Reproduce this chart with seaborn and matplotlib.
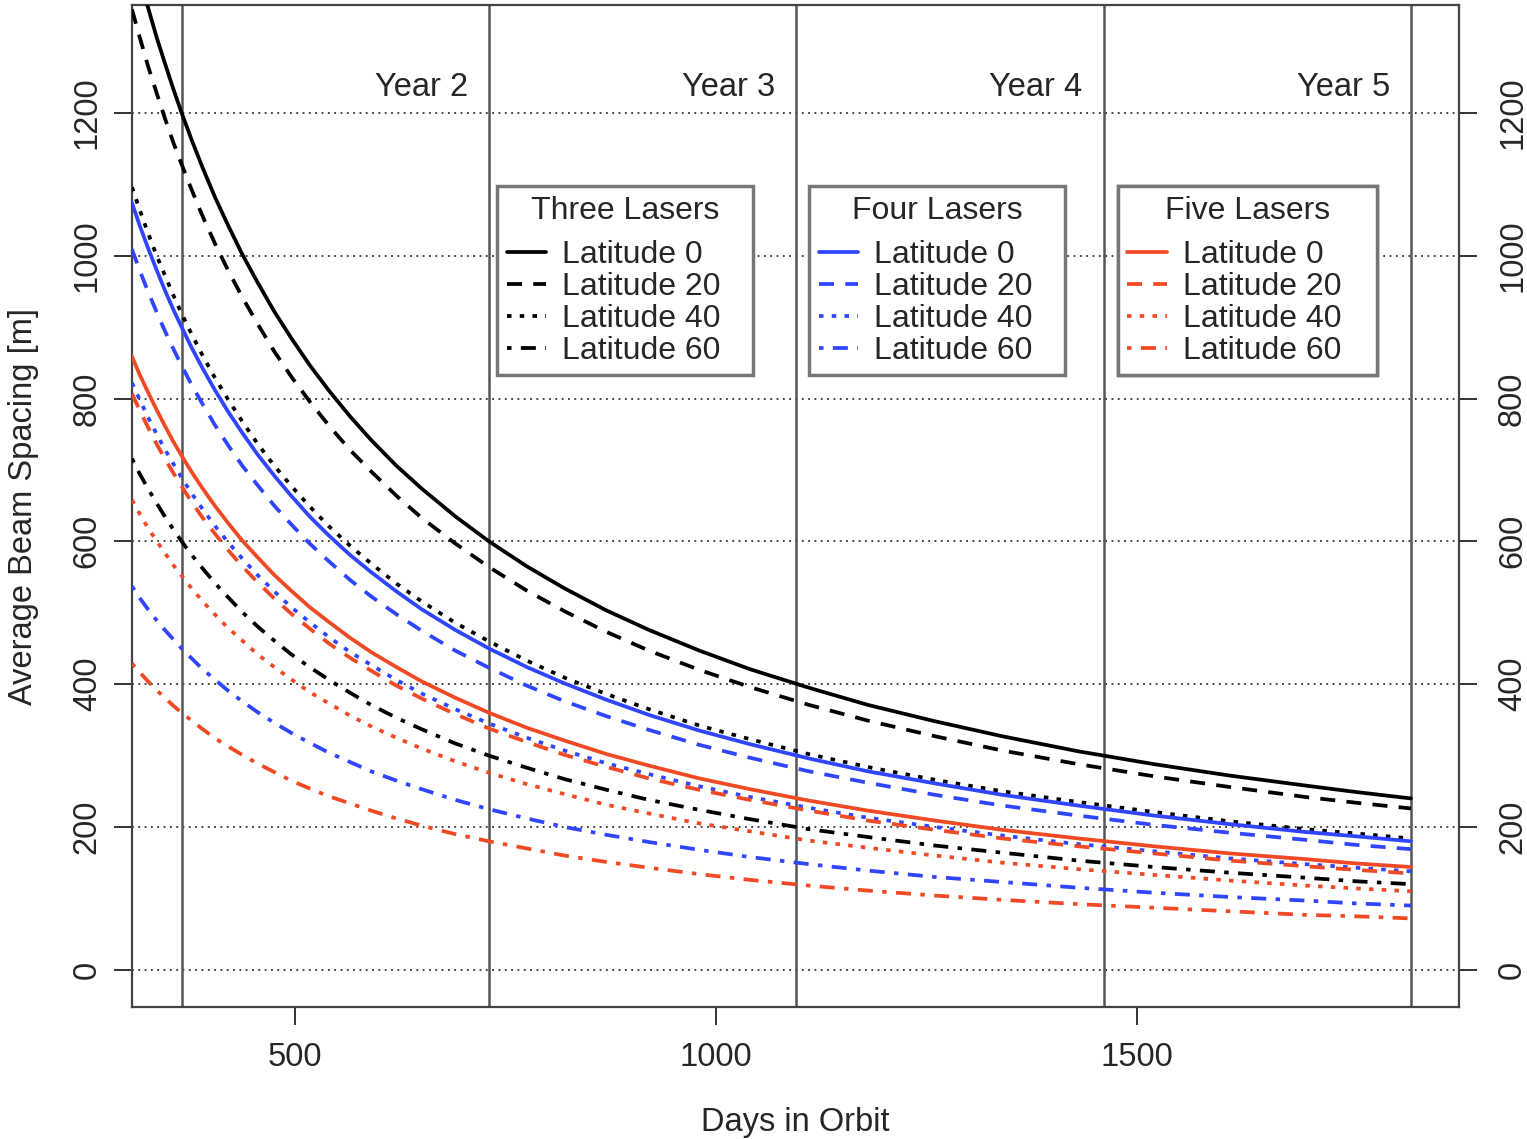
import pandas as pd
import matplotlib.pyplot as plt
import seaborn as sns
from matplotlib.lines import Line2D
from matplotlib.transforms import ScaledTranslation

days = [306, 315, 325, 335, 345, 355, 365, 377, 390, 405, 420, 437, 455, 475,
        495, 517, 540, 565, 590, 620, 650, 690, 730, 775, 820, 870, 920, 980,
        1040, 1110, 1180, 1260, 1340, 1430, 1520, 1610, 1700, 1760, 1825]

# Three lasers (black)
three_lat0 = [1431, 1390, 1348, 1307, 1270, 1234, 1200, 1162, 1123, 1081, 1043, 1002,
              963, 922, 885, 847, 811, 775, 742, 706, 674, 635, 600, 565, 534, 503,
              476, 447, 421, 395, 371, 348, 327, 306, 288, 272, 258, 249, 240]
three_lat20 = [1345, 1307, 1266, 1229, 1193, 1159, 1128, 1092, 1055, 1016, 980, 942,
               905, 866, 831, 796, 762, 728, 698, 664, 633, 597, 564, 531, 502, 473,
               447, 420, 396, 371, 349, 327, 307, 288, 271, 256, 242, 234, 226]
three_lat40 = [1096, 1065, 1032, 1001, 973, 945, 919, 890, 860, 828, 799, 768,
               737, 706, 678, 649, 621, 594, 569, 541, 516, 486, 460, 433, 409, 386,
               365, 342, 323, 302, 284, 266, 250, 235, 221, 208, 197, 191, 184]
three_lat60 = [716, 695, 674, 654, 635, 617, 600, 581, 562, 541, 522, 501,
               481, 461, 442, 424, 406, 388, 371, 353, 337, 317, 300, 283, 267, 252,
               238, 224, 211, 197, 186, 174, 164, 153, 144, 136, 129, 124, 120]

# Four lasers (blue)
four_lat0 = [1074, 1043, 1011, 981, 952, 925, 900, 871, 842, 811, 782, 752,
             722, 692, 664, 635, 608, 581, 557, 530, 505, 476, 450, 424, 401, 378,
             357, 335, 316, 296, 278, 261, 245, 230, 216, 204, 193, 187, 180]
four_lat20 = [1009, 980, 950, 922, 895, 870, 846, 819, 792, 762, 735, 706,
              679, 650, 624, 597, 572, 546, 523, 498, 475, 447, 423, 398, 376, 355,
              336, 315, 297, 278, 262, 245, 230, 216, 203, 192, 182, 175, 169]
four_lat40 = [822, 799, 774, 751, 729, 709, 689, 667, 645, 621, 599, 576,
              553, 530, 508, 487, 466, 445, 427, 406, 387, 365, 345, 325, 307, 289,
              274, 257, 242, 227, 213, 200, 188, 176, 166, 156, 148, 143, 138]
four_lat60 = [537, 521, 505, 490, 476, 463, 450, 436, 421, 406, 391, 376,
              361, 346, 332, 318, 304, 291, 278, 265, 253, 238, 225, 212, 200, 189,
              179, 168, 158, 148, 139, 130, 123, 115, 108, 102, 97, 93, 90]

# Five lasers (red)
five_lat0 = [859, 834, 809, 785, 762, 740, 720, 697, 674, 649, 626, 601,
             578, 553, 531, 508, 487, 465, 445, 424, 404, 381, 360, 339, 321, 302,
             286, 268, 253, 237, 223, 209, 196, 184, 173, 163, 155, 149, 144]
five_lat20 = [807, 784, 760, 737, 716, 696, 677, 655, 633, 610, 588, 565,
              543, 520, 499, 478, 457, 437, 419, 398, 380, 358, 338, 319, 301, 284,
              268, 252, 238, 223, 209, 196, 184, 173, 163, 153, 145, 140, 135]
five_lat40 = [658, 639, 619, 601, 584, 567, 552, 534, 516, 497, 479, 461,
              442, 424, 407, 389, 373, 356, 341, 325, 310, 292, 276, 260, 246, 231,
              219, 205, 194, 181, 171, 160, 150, 141, 133, 125, 118, 114, 110]
five_lat60 = [429, 417, 404, 392, 381, 370, 360, 349, 337, 324, 313, 301,
              289, 277, 265, 254, 243, 233, 223, 212, 202, 190, 180, 170, 160, 151,
              143, 134, 126, 118, 111, 104, 98, 92, 87, 82, 77, 75, 72]

groups = ["Three Lasers", "Four Lasers", "Five Lasers"]
latitudes = ["Latitude 0", "Latitude 20", "Latitude 40", "Latitude 60"]
year_lines = [365, 730, 1095, 1460, 1825]
year_labels = ["Year 2", "Year 3", "Year 4", "Year 5"]

series = {
    ("Three Lasers", "Latitude 0"): three_lat0,
    ("Three Lasers", "Latitude 20"): three_lat20,
    ("Three Lasers", "Latitude 40"): three_lat40,
    ("Three Lasers", "Latitude 60"): three_lat60,
    ("Four Lasers", "Latitude 0"): four_lat0,
    ("Four Lasers", "Latitude 20"): four_lat20,
    ("Four Lasers", "Latitude 40"): four_lat40,
    ("Four Lasers", "Latitude 60"): four_lat60,
    ("Five Lasers", "Latitude 0"): five_lat0,
    ("Five Lasers", "Latitude 20"): five_lat20,
    ("Five Lasers", "Latitude 40"): five_lat40,
    ("Five Lasers", "Latitude 60"): five_lat60,
}

frames = []
for (grp, lat), vals in series.items():
    frames.append(pd.DataFrame({"days": days, "spacing": vals, "group": grp, "lat": lat}))
df = pd.concat(frames, ignore_index=True)

colors = {"Three Lasers": "black", "Four Lasers": "#2f45ff", "Five Lasers": "#f04a25"}
dash_styles = {"Latitude 0": "", "Latitude 20": (4, 3),
               "Latitude 40": (1.2, 2.2), "Latitude 60": (1.2, 2.5, 4, 2.5)}

sns.set_style("ticks")
plt.rcParams["font.family"] = ["Liberation Sans", "DejaVu Sans"]
fs = 23.5

fig = plt.figure(figsize=(15.27, 11.39), dpi=100)
ax = fig.add_axes([0.0864, 0.1159, 0.8690, 0.8797])

# Grid and year boundaries
for y in range(0, 1400, 200):
    ax.axhline(y, color="#333333", lw=1.3, ls=(0, (1, 2.5)), zorder=1)
for x in year_lines:
    ax.axvline(x, color="#555555", lw=1.8, zorder=1)

sns.lineplot(data=df, x="days", y="spacing", hue="group", style="lat",
             palette=colors, dashes=dash_styles, hue_order=groups,
             style_order=latitudes, lw=2.7, legend=False, ax=ax,
             estimator=None, sort=True, zorder=3)

for x, lab in zip(year_lines[1:], year_labels):
    ax.text(x - 25, 1236, lab, ha="right", va="center", fontsize=fs)

ax.set_xlim(306, 1882)
ax.set_ylim(-52, 1351)
ax.set_xticks([500, 1000, 1500])
ax.set_yticks(range(0, 1400, 200))
ax.tick_params(axis="both", direction="out", length=13, width=1.4,
               labelsize=fs, color="#333333")
ax.tick_params(axis="x", pad=12)
ax.tick_params(axis="y", right=True, labelright=True, labelrotation=90, pad=8)
for t in ax.yaxis.get_major_ticks():
    t.label1.set_va("center")
    t.label2.set_va("center")
    t.label2.set_transform(t.label2.get_transform()
                           + ScaledTranslation(0.09, 0, fig.dpi_scale_trans))
for sp in ax.spines.values():
    sp.set_color("#444444")
    sp.set_linewidth(1.6)

ax.set_xlabel("Days in Orbit", fontsize=fs, va="center")
ax.xaxis.set_label_coords(0.5, -0.115)
ax.set_ylabel("Average Beam Spacing [m]", fontsize=fs, va="center")
ax.yaxis.set_label_coords(-0.082, 0.5)

# One legend box per number of lasers
legend_boxes = [(0.2751, 0.1929), (0.5102, 0.1929), (0.7430, 0.1952)]
for grp, (xpos, width) in zip(groups, legend_boxes):
    handles = [Line2D([], [], color=colors[grp], lw=2.7,
                      linestyle=(0, dash_styles[lat]) if dash_styles[lat] else "-")
               for lat in latitudes]
    leg = ax.legend(handles, latitudes, title=grp, loc="upper left",
                    bbox_to_anchor=(xpos, 0.5, width, 0.3194), mode="expand",
                    borderaxespad=0, fontsize=23, title_fontsize=23,
                    frameon=True, fancybox=False, framealpha=1,
                    edgecolor="#777777", handlelength=1.25, handletextpad=0.5,
                    labelspacing=0.06, borderpad=0.3)
    leg._legend_box.sep = 10.5
    leg.get_frame().set_linewidth(2.5)
    leg.set_zorder(5)
    ax.add_artist(leg)

plt.savefig("out.png", dpi=100)
plt.close()
